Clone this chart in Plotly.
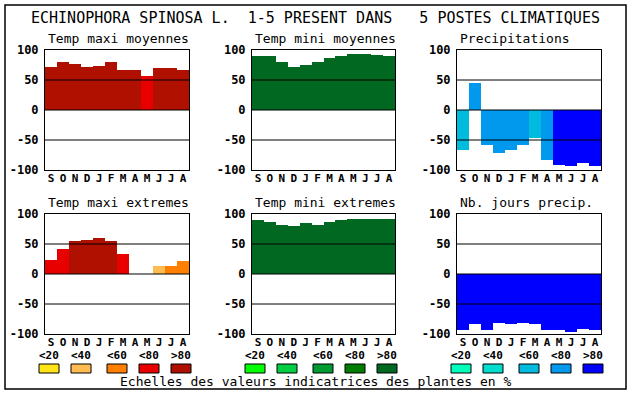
import plotly.graph_objects as go

# ---------------- data ----------------
months = ["S", "O", "N", "D", "J", "F", "M", "A", "M", "J", "J", "A"]
y_ticks = [-100, -50, 0, 50, 100]
y_tick_labels = ["-100", "-50", "0", "50", "100"]
class_labels = ["<20", "<40", "<60", "<80", ">80"]

panel_titles = ["Temp maxi moyennes", "Temp mini moyennes", "Precipitations",
                "Temp maxi extremes", "Temp mini extremes", "Nb. jours precip."]

temp_maxi_moy = [72, 80, 77, 72, 73, 80, 67, 67, 57, 70, 70, 67]
temp_maxi_moy_cls = [4, 4, 4, 4, 4, 4, 4, 4, 3, 4, 4, 4]

temp_mini_moy = [90, 90, 80, 72, 75, 80, 87, 90, 93, 93, 92, 90]
temp_mini_moy_cls = [4] * 12

precip = [-66, 45, -58, -71, -66, -58, -46, -83, -91, -94, -88, -93]
precip_cls = [2, 3, 3, 3, 3, 3, 2, 3, 4, 4, 4, 4]

temp_maxi_ext = [23, 42, 55, 57, 60, 55, 33, 0, 0, 13, 13, 22]
temp_maxi_ext_cls = [3, 3, 4, 4, 4, 4, 3, 3, 3, 1, 2, 2]

temp_mini_ext = [90, 87, 82, 80, 85, 82, 87, 90, 92, 92, 92, 92]
temp_mini_ext_cls = [4] * 12

nb_jours = [-93, -83, -93, -81, -83, -81, -84, -93, -94, -96, -91, -93]
nb_jours_cls = [4] * 12

# ---------------- palettes ----------------
reds = ["#FFE418", "#FFBC50", "#FF8000", "#E80000", "#B01000"]
greens = ["#00FF00", "#00CC44", "#009A33", "#007D00", "#006820"]
blues = ["#00FFBB", "#00DDCC", "#00BBDD", "#0099EE", "#0000FF"]

panels = [
    (temp_maxi_moy, temp_maxi_moy_cls, reds),
    (temp_mini_moy, temp_mini_moy_cls, greens),
    (precip, precip_cls, blues),
    (temp_maxi_ext, temp_maxi_ext_cls, reds),
    (temp_mini_ext, temp_mini_ext_cls, greens),
    (nb_jours, nb_jours_cls, blues),
]

W, H = 630, 394
def PX(x): return x / W
def PY(y): return 1 - y / H

col_x = [(45, 189), (252, 395), (457, 601)]
row_y = [(50, 170), (214, 334)]

MONO = "DejaVu Sans Mono"

fig = go.Figure()
layout = dict(
    template="none",
    width=W, height=H, margin=dict(l=0, r=0, t=0, b=0, pad=0, autoexpand=False),
    paper_bgcolor="white", plot_bgcolor="white", showlegend=False,
    bargap=0, font=dict(family=MONO, color="black"),
)
shapes = []
annotations = []

for i, (vals, cls, pal) in enumerate(panels):
    r, c = divmod(i, 3)
    n = i + 1
    xa = "x" if n == 1 else f"x{n}"
    ya = "y" if n == 1 else f"y{n}"
    fig.add_trace(go.Bar(
        x=list(range(12)), y=vals, base=0,
        marker=dict(color=[pal[k] for k in cls], line=dict(width=0)),
        width=1.0, xaxis=xa, yaxis=ya, hoverinfo="skip",
    ))
    x0, x1 = col_x[c]
    y0, y1 = row_y[r]
    layout["xaxis" if n == 1 else f"xaxis{n}"] = dict(
        domain=[PX(x0), PX(x1)], anchor=ya, range=[-0.5, 11.5],
        tickvals=list(range(12)), ticktext=months, showgrid=False,
        zeroline=False, showline=True, linecolor="black", linewidth=1, mirror=True,
        ticks="", automargin=False, ticklabelstandoff=-2,
        tickfont=dict(family=MONO, size=11, color="black", weight="bold"),
        fixedrange=True,
    )
    layout["yaxis" if n == 1 else f"yaxis{n}"] = dict(
        domain=[PY(y1), PY(y0)], anchor=xa, range=[-100, 100],
        tickvals=y_ticks, ticktext=y_tick_labels, showgrid=False,
        zeroline=False, showline=True, linecolor="black", linewidth=1, mirror=True,
        ticks="", ticklabelstandoff=3, automargin=False,
        tickfont=dict(family=MONO, size=12, color="black", weight="bold"),
        fixedrange=True,
    )
    xd = ("x domain" if n == 1 else f"x{n} domain")
    for gy in (50, 0, -50):
        shapes.append(dict(type="line", xref=xd, yref=ya, x0=0, x1=1, y0=gy, y1=gy,
                           line=dict(color="black", width=1), layer="above"))
    annotations.append(dict(
        text=panel_titles[i], xref="paper", yref="paper",
        x=PX(x0 + 1), y=PY(y0 - 11.5), xanchor="left", yanchor="middle",
        showarrow=False, font=dict(family=MONO, size=13, color="black"),
    ))

# main title
annotations.append(dict(
    text="ECHINOPHORA SPINOSA L.  1-5 PRESENT DANS   5 POSTES CLIMATIQUES",
    xref="paper", yref="paper", x=PX(315), y=PY(18), xanchor="center", yanchor="middle",
    showarrow=False, font=dict(family=MONO, size=15, color="black"),
))

# legend scales
group_x0 = [39, 245, 451]
offsets = [0, 32, 68, 100, 132]
for g, pal in enumerate([reds, greens, blues]):
    for k in range(5):
        sx = group_x0[g] + offsets[k]
        shapes.append(dict(type="rect", xref="paper", yref="paper",
                           x0=PX(sx), x1=PX(sx + 20), y0=PY(373), y1=PY(364),
                           fillcolor=pal[k], line=dict(color="black", width=1)))
        annotations.append(dict(
            text=class_labels[k], xref="paper", yref="paper",
            x=PX(sx + 10), y=PY(355), xanchor="center", yanchor="middle",
            showarrow=False, font=dict(family=MONO, size=11, color="black", weight="bold"),
        ))

annotations.append(dict(
    text="Echelles des valeurs indicatrices des plantes en %",
    xref="paper", yref="paper", x=PX(316), y=PY(381), xanchor="center", yanchor="middle",
    showarrow=False, font=dict(family=MONO, size=13, color="black"),
))

# outer frame
shapes.append(dict(type="rect", xref="paper", yref="paper",
                   x0=PX(5), x1=PX(626), y0=PY(389), y1=PY(5),
                   line=dict(color="black", width=1.5), fillcolor="rgba(0,0,0,0)"))

layout["shapes"] = shapes
layout["annotations"] = annotations
fig.update_layout(**layout)
fig.write_html(
    "out.html",
    config={"displayModeBar": False},
    post_script="document.body.style.margin='0';document.body.style.padding='0';"
                "document.body.style.overflow='hidden';",
)
